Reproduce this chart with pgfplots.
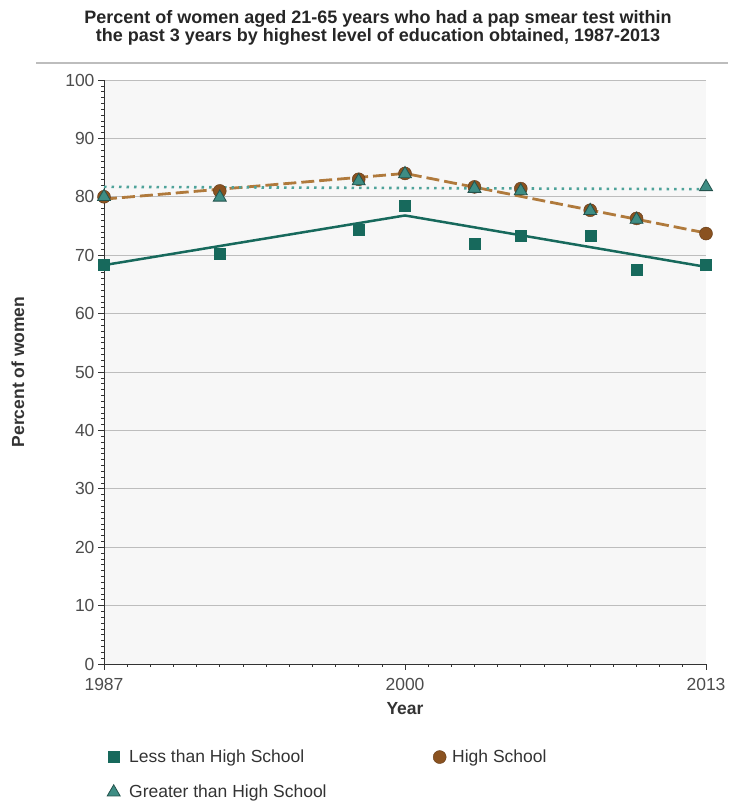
\documentclass[border=0pt]{standalone}
\usepackage{pgfplots}
\pgfplotsset{compat=1.18}
\usepackage{fontspec}
\setmainfont{Liberation Sans}
\definecolor{lhs}{HTML}{17695C}
\definecolor{hsfill}{HTML}{8A5220}
\definecolor{hsline}{HTML}{B07A3C}
\definecolor{ghsfill}{HTML}{3E8D84}
\definecolor{ghsedge}{HTML}{24534D}
\definecolor{ghsline}{HTML}{4FA39A}
\definecolor{gridc}{HTML}{BDBDBD}
\begin{document}
\begin{tikzpicture}
\useasboundingbox (0pt,0pt) rectangle (728pt,802pt);
\node[font=\fontsize{18}{17.5}\selectfont\bfseries, align=center, text=black!85] at (378pt,774pt)
  {Percent of women aged 21-65 years who had a pap smear test within\\the past 3 years by highest level of education obtained, 1987-2013};
\draw[gridc, line width=2pt] (36pt,739pt) -- (728pt,739pt);
\begin{axis}[
  at={(104pt,138pt)}, anchor=south west,
  scale only axis, width=602pt, height=584pt,
  xmin=1987, xmax=2013, ymin=0, ymax=100,
  axis background/.style={fill=black!3},
  axis lines=left, axis line style={-, black!80, line width=0.8pt},
  xtick={1987,2000,2013}, minor xtick={1988,...,2012},
  ytick={0,10,...,100}, minor ytick={0,1,...,100},
  tick align=outside, tick pos=left,
  major tick length=6pt, minor tick length=3pt,
  every tick/.style={black!80, line width=0.6pt},
  ymajorgrids, grid style={gridc, line width=0.8pt},
  xticklabel style={/pgf/number format/1000 sep={}, font=\fontsize{17.5}{18}\selectfont, text=black!70, yshift=-5pt},
  yticklabel style={font=\fontsize{17.5}{18}\selectfont, text=black!70},
  /pgf/number format/assume math mode=true,
  xlabel={Year}, ylabel={Percent of women},
  xlabel style={font=\fontsize{17.5}{18}\selectfont\bfseries, text=black!80, at={(axis description cs:0.5,-0.077)}, anchor=center},
  ylabel style={font=\fontsize{17.5}{18}\selectfont\bfseries, text=black!80, at={(axis description cs:-0.143,0.5)}, anchor=center, rotate=0},
  legend style={at={(axis description cs:0.0,-0.14)}, anchor=north west, draw=none, fill=none,
    font=\fontsize{17.5}{18}\selectfont, text=black!80, row sep=17pt, legend columns=2,
    /tikz/every even column/.append style={column sep=0pt}},
  legend cell align=left,
  clip=false,
]
% trend lines
\addplot[lhs, line width=2.5pt, forget plot] coordinates {(1987,68.3) (2000,76.8) (2013,68.0)};
\addplot[hsline, line width=2.8pt, dash pattern=on 13pt off 5pt, forget plot] coordinates {(1987,79.6) (2000,84.0) (2013,73.8)};
\addplot[ghsline, line width=2.6pt, dash pattern=on 2.5pt off 5pt, forget plot] coordinates {(1987,81.7) (2013,81.3)};
% data points
\addplot[only marks, mark=square*, mark size=5.5pt, draw=lhs, fill=lhs] coordinates {
 (1987,68.3) (1992,70.2) (1998,74.4) (2000,78.4) (2003,71.9) (2005,73.4) (2008,73.4) (2010,67.5) (2013,68.4)};
\addlegendentry{\hspace*{7pt}\makebox[302pt][l]{Less than High School}}
\addplot[only marks, mark=*, mark size=6.5pt, draw=hsfill!70!black, fill=hsfill] coordinates {
 (1987,80.0) (1992,81.0) (1998,83.0) (2000,84.0) (2003,81.7) (2005,81.4) (2008,77.7) (2010,76.3) (2013,73.7)};
\addlegendentry{\hspace*{4pt}High School}
\addplot[only marks, mark=triangle*, mark size=7.5pt, draw=ghsedge, fill=ghsfill, line width=0.8pt] coordinates {
 (1987,80.0) (1992,79.9) (1998,82.7) (2000,83.9) (2003,81.4) (2005,81.0) (2008,77.6) (2010,76.1) (2013,81.7)};
\addlegendentry{\hspace*{7pt}Greater than High School}
\end{axis}
\end{tikzpicture}
\end{document}
